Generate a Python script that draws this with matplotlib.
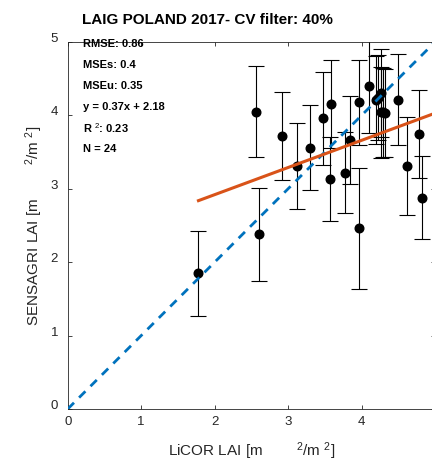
import numpy as np
import matplotlib.pyplot as plt

plt.rcParams['font.family'] = ['Liberation Sans', 'DejaVu Sans']
plt.rcParams['mathtext.fontset'] = 'custom'
plt.rcParams['mathtext.rm'] = 'Liberation Sans'
plt.rcParams['mathtext.it'] = 'Liberation Sans:italic'
plt.rcParams['mathtext.bf'] = 'Liberation Sans:bold'

# LiCOR vs SENSAGRI LAI per plot, with std of SENSAGRI LAI
licor = [2.57, 2.92, 3.115, 3.30, 3.47, 3.58, 3.57, 3.78, 3.84, 3.97, 3.97, 4.10,
         4.20, 4.26, 4.26, 4.32, 4.49, 4.62, 4.78, 4.82, 1.78, 2.61, 4.29, 4.23]
sensagri = [4.05, 3.72, 3.31, 3.56, 3.96, 4.155, 3.13, 3.22, 3.66, 4.18, 2.46, 4.40,
            4.21, 4.31, 4.04, 4.03, 4.21, 3.31, 3.75, 2.88, 1.85, 2.38, 4.04, 4.24]
sensagri_std = [0.62, 0.60, 0.58, 0.58, 0.63, 0.60, 0.57, 0.55, 0.60, 0.58, 0.82, 0.64,
                0.60, 0.60, 0.62, 0.60, 0.62, 0.67, 0.60, 0.57, 0.58, 0.63, 0.60, 0.58]

slope, intercept = 0.37, 2.18
stats = ['RMSE: 0.86', 'MSEs: 0.4', 'MSEu: 0.35', 'y = 0.37x + 2.18',
         r'R $^2$: 0.23', 'N = 24']

gray = (0.15, 0.15, 0.15)

fig = plt.figure(figsize=(4.32, 4.62), dpi=100)
ax = fig.add_axes([67.7 / 432, 53 / 462, 367.3 / 432, 367 / 462])

ax.errorbar(licor, sensagri, yerr=sensagri_std, fmt='o', color='black',
            ecolor='black', elinewidth=0.8, capsize=5.5, capthick=0.8,
            markersize=6.2, zorder=2)

ax.plot([0, 5], [0, 5], '--', color='#0072BD', lw=2.0, dashes=(3.2, 2.6), zorder=3)

xfit = np.array([min(licor), 5.0])
ax.plot(xfit, slope * xfit + intercept, color='#D95319', lw=2.2, zorder=4)

ax.set_xlim(0, 5)
ax.set_ylim(0, 5)
ax.set_xticks(range(6))
ax.set_yticks(range(6))
for side in ax.spines.values():
    side.set_color(gray)
    side.set_linewidth(0.6)
ax.tick_params(direction='in', length=3, width=0.6, color=gray, labelcolor=gray,
               labelsize=9.5, top=True, right=True)
ax.tick_params(axis='x', pad=5)
ax.tick_params(axis='y', pad=7)
for lab in ax.get_yticklabels():
    lab.set_verticalalignment('baseline')

ax.set_xlabel(r'LiCOR LAI [m        $^2$/m $^2$]', fontsize=11, color=gray, labelpad=9)
ax.set_ylabel(r'SENSAGRI LAI [m        $^2$/m $^2$]', fontsize=11, color=gray, labelpad=4)

fig.text(207 / 432, 1 - 20.5 / 462, 'LAIG POLAND 2017- CV filter: 40%',
         ha='center', va='center', fontsize=11, fontweight='bold')

for i, s in enumerate(stats):
    fig.text(82.7 / 432, 1 - (44 + 21 * i) / 462, s, ha='left', va='center',
             fontsize=8, fontweight='bold')

fig.savefig('out.png', dpi=100)
